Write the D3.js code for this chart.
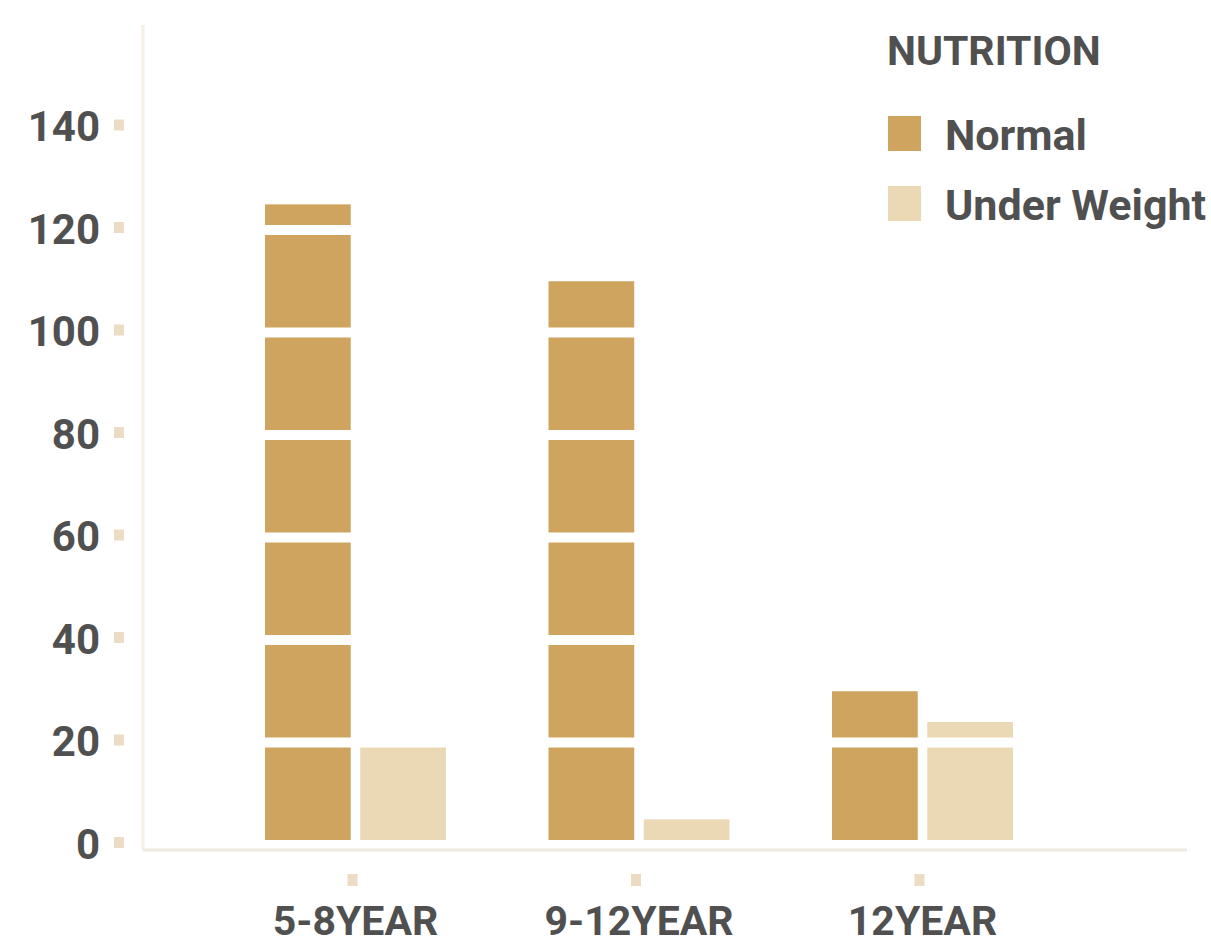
<!DOCTYPE html>
<html>
<head>
<meta charset="utf-8">
<script src="https://cdn.jsdelivr.net/npm/d3@7"></script>
<style>
  body { margin: 0; background: #ffffff; }
  text { font-family: Roboto, "DejaVu Sans", sans-serif; font-weight: 700; fill: #505050; }
</style>
</head>
<body>
<svg id="chart" width="1211" height="947"></svg>
<script>
// Age groups and nutrition counts
const categories = ["5-8YEAR", "9-12YEAR", "12YEAR"];
const seriesNames = ["Normal", "Under Weight"];
const normalValues = [125, 110, 30];
const underWeightValues = [20, 5, 24];
const yTickValues = [0, 20, 40, 60, 80, 100, 120, 140];
const legendTitle = "NUTRITION";
const seriesColors = ["#cfa45f", "#ebd8b5"];

const rows = categories.map((c, i) => ({
  category: c,
  values: [
    { series: seriesNames[0], value: normalValues[i] },
    { series: seriesNames[1], value: underWeightValues[i] }
  ]
}));

const svg = d3.select("#chart");
const plotLeft = 143, plotRight = 1187;

const x = d3.scaleBand().domain(categories).range([265, 1013]).paddingInner(0.3616).paddingOuter(0);
const xs = d3.scaleBand().domain(seriesNames).range([0, x.bandwidth()]).paddingInner(0.1);
const y = d3.scaleLinear().domain([0, 160]).range([845, 25]);
const color = d3.scaleOrdinal().domain(seriesNames).range(seriesColors);

// y axis line
svg.append("line")
  .attr("x1", plotLeft).attr("x2", plotLeft)
  .attr("y1", y(160)).attr("y2", y(0) + 5)
  .attr("stroke", "#f6efe5").attr("stroke-width", 3);

// bars
const groups = svg.append("g").selectAll("g")
  .data(rows).join("g")
  .attr("transform", d => `translate(${x(d.category)},0)`);

groups.selectAll("rect")
  .data(d => d.values).join("rect")
  .attr("x", d => xs(d.series))
  .attr("width", xs.bandwidth())
  .attr("y", d => y(d.value))
  .attr("height", d => y(0) - y(d.value))
  .attr("fill", d => color(d.series));

// white grid bands cut across the bars
svg.append("g").selectAll("line")
  .data(yTickValues).join("line")
  .attr("x1", plotLeft + 3).attr("x2", plotRight)
  .attr("y1", d => y(d)).attr("y2", d => y(d))
  .attr("stroke", "#ffffff").attr("stroke-width", 10);

// x axis line
svg.append("line")
  .attr("x1", plotLeft).attr("x2", plotRight)
  .attr("y1", y(0) + 5).attr("y2", y(0) + 5)
  .attr("stroke", "#efe9df").attr("stroke-width", 3);

// y axis labels
const yAxis = svg.append("g")
  .attr("transform", "translate(100,0)")
  .call(d3.axisLeft(y).tickValues(yTickValues).tickSize(0).tickPadding(0));
yAxis.select(".domain").remove();
yAxis.selectAll("text")
  .attr("dy", "0.34em")
  .attr("transform", "translate(0,-1)")
  .style("font-size", "42px")
  .style("font-family", "Roboto, sans-serif")
  .attr("fill", "#505050");
// y tick squares
svg.append("g").selectAll("rect")
  .data(yTickValues).join("rect")
  .attr("x", 114).attr("width", 10)
  .attr("y", d => y(d) - 8).attr("height", 11)
  .attr("fill", "#ecdcc4");

// x axis labels
const xAxis = svg.append("g")
  .attr("transform", "translate(0,905)")
  .call(d3.axisBottom(x).tickSize(0).tickPadding(0));
xAxis.select(".domain").remove();
xAxis.selectAll("text")
  .attr("y", 0).attr("dy", "0.72em")
  .style("font-size", "41px")
  .style("font-family", "Roboto, sans-serif")
  .attr("fill", "#505050");
// x tick squares
svg.append("g").selectAll("rect")
  .data(categories).join("rect")
  .attr("x", d => x(d) + x.bandwidth() / 2 - 8).attr("width", 10)
  .attr("y", 874).attr("height", 12)
  .attr("fill", "#ecdcc4");

// legend
const legend = svg.append("g");
legend.append("text")
  .attr("x", 887).attr("y", 65)
  .style("font-size", "41px")
  .text(legendTitle);
const items = legend.selectAll("g.item")
  .data(seriesNames).join("g")
  .attr("class", "item")
  .attr("transform", (d, i) => `translate(888,${116 + i * 70})`);
items.append("rect")
  .attr("width", 33).attr("height", 35)
  .attr("fill", d => color(d));
items.append("text")
  .attr("x", 57).attr("y", 34)
  .style("font-size", "43px")
  .text(d => d);
</script>
</body>
</html>
